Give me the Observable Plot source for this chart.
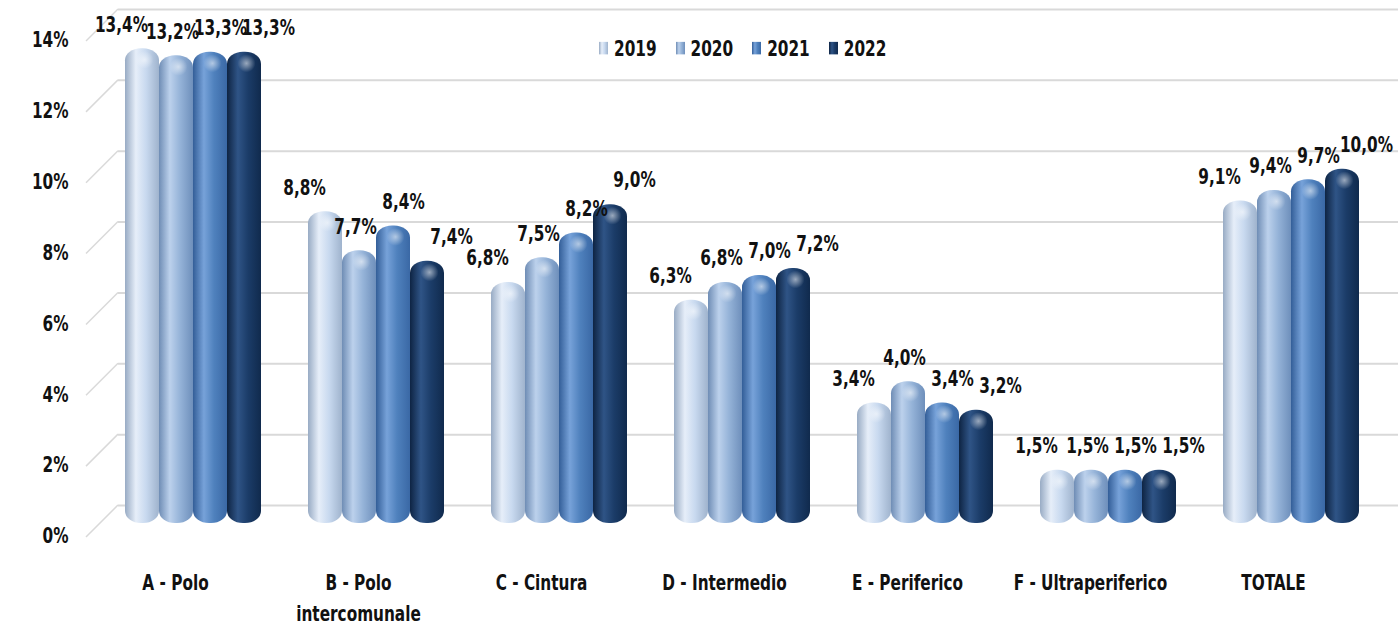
<!DOCTYPE html>
<html><head><meta charset="utf-8">
<script src="https://cdn.jsdelivr.net/npm/d3@7"></script>
<script src="https://cdn.jsdelivr.net/npm/@observablehq/plot@0.6"></script>
<style>
body{margin:0;background:#fff;}
#wrap{position:relative;width:1398px;height:628px;overflow:hidden;}
#legend{position:absolute;left:599px;top:31px;transform:scaleY(1.25);transform-origin:0 50%;}
#legend .lg-swatch{margin-right:19px;}
#legend .lg-swatch > svg{margin-right:6px;}
</style></head><body><div id="wrap"></div>
<script>
const categories = ["A - Polo","B - Polo\nintercomunale","C - Cintura","D - Intermedio","E - Periferico","F - Ultraperiferico","TOTALE"];
const years = ["2019","2020","2021","2022"];
const v2019 = [13.4, 8.8, 6.8, 6.3, 3.4, 1.5, 9.1];
const v2020 = [13.2, 7.7, 7.5, 6.8, 4.0, 1.5, 9.4];
const v2021 = [13.3, 8.4, 8.2, 7.0, 3.4, 1.5, 9.7];
const v2022 = [13.3, 7.4, 9.0, 7.2, 3.2, 1.5, 10.0];
const yTicks = [0, 2, 4, 6, 8, 10, 12, 14];

const series = [v2019, v2020, v2021, v2022];
const rows = [];
years.forEach((yr, i) => categories.forEach((c, j) => rows.push({year: yr, category: c, value: series[i][j]})));

const FONT = "'DejaVu Sans Condensed','Liberation Sans Narrow','Arial Narrow',sans-serif";
const gradStops = {
  "2019": ["#98abc4", "#e6eef9", "#c8d9ef", "#9fb3cd"],
  "2020": ["#6f8db5", "#bcd1ec", "#95b3d8", "#6e8fbb"],
  "2021": ["#335e98", "#77a2d9", "#4f81bd", "#3a68a5"],
  "2022": ["#0e2443", "#2f5486", "#1b3c68", "#102a4d"]
};
const labelShift = [-21, -4, 10, 24];
const barW = 34;
const stretch = 1.25;
const fmt = v => d3.format(".1f")(v).replace(".", ",") + "%";

function decor(index, scales, values, dimensions) {
  const g = d3.create("svg:g");
  const defs = g.append("defs");
  for (const yr of years) {
    const lg = defs.append("linearGradient").attr("id", "grad" + yr).attr("x1", 0).attr("x2", 1).attr("y1", 0).attr("y2", 0);
    [0, 0.32, 0.62, 1].forEach((o, k) => lg.append("stop").attr("offset", o).attr("stop-color", gradStops[yr][k]));
  }
  const rg = defs.append("radialGradient").attr("id", "capHi");
  rg.append("stop").attr("offset", 0).attr("stop-color", "#fff").attr("stop-opacity", 0.55);
  rg.append("stop").attr("offset", 1).attr("stop-color", "#fff").attr("stop-opacity", 0);
  const left = dimensions.marginLeft;
  for (const t of yTicks) {
    const y = scales.y(t);
    g.append("line").attr("x1", left + 6).attr("y1", y + 14).attr("x2", left + 38).attr("y2", y - 18)
      .attr("stroke", "#d9d9d9").attr("stroke-width", 1.5);
  }
  return g.node();
}

const marks = [
  decor,
  Plot.ruleY(yTicks, {dy: -18, insetLeft: 38, insetRight: -8, stroke: "#d9d9d9", strokeWidth: 2}),
  Plot.axisY(yTicks, {tickFormat: d => d + "%", tickSize: 0, tickPadding: 12, dy: 13}),
  Plot.axisX({tickSize: 0, tickPadding: 44, dx: -18, lineHeight: 1.48})
];
years.forEach((yr, i) => {
  const data = rows.filter(d => d.year === yr);
  const dx = (i - 1.5) * barW;
  marks.push(Plot.barY(data, {x: "category", y: "value", dx, fill: `url(#grad${yr})`, rx: 16, ry: 12}));
  marks.push(Plot.dot(data, {x: "category", y: "value", dx: dx + 2, dy: 11, r: 9, fill: "url(#capHi)"}));
});
years.forEach((yr, i) => {
  const data = rows.filter(d => d.year === yr);
  marks.push(Plot.text(data, {x: "category", y: "value", text: d => fmt(d.value), dx: (i - 1.5) * barW + labelShift[i], dy: -24, fill: "#111"}));
});

const plot = Plot.plot({
  width: 1398,
  height: 628,
  marginLeft: 80,
  marginRight: 8,
  marginTop: 27,
  marginBottom: 105,
  style: {fontFamily: FONT, fontSize: "17px", fontWeight: "bold", color: "#111", background: "#fff", overflow: "visible"},
  x: {domain: categories, paddingInner: 1 - barW / 183.5, paddingOuter: 0, insetLeft: 94, insetRight: 81, label: null},
  y: {domain: [0, 14], label: null},
  marks
});
// stretch glyphs vertically around each text's own anchor point
plot.querySelectorAll("text").forEach(t => {
  const tr = t.getAttribute("transform");
  if (tr && tr.includes("translate")) {
    t.setAttribute("transform", tr + ` scale(1,${stretch})`);
  } else {
    const x = +(t.getAttribute("x") || 0), y = +(t.getAttribute("y") || 0);
    t.setAttribute("transform", `translate(${x},${y}) scale(1,${stretch}) translate(${-x},${-y})`);
  }
});
const wrap = document.getElementById("wrap");
wrap.appendChild(plot);

const legend = Plot.legend({
  color: {type: "ordinal", domain: years, range: years.map(y => `url(#grad${y})`)},
  legend: "swatches",
  swatchWidth: 9,
  swatchHeight: 10,
  className: "lg",
  style: {fontFamily: FONT, fontSize: "17px", fontWeight: "bold", color: "#111"}
});
legend.id = "legend";
wrap.appendChild(legend);
</script>
</body></html>
